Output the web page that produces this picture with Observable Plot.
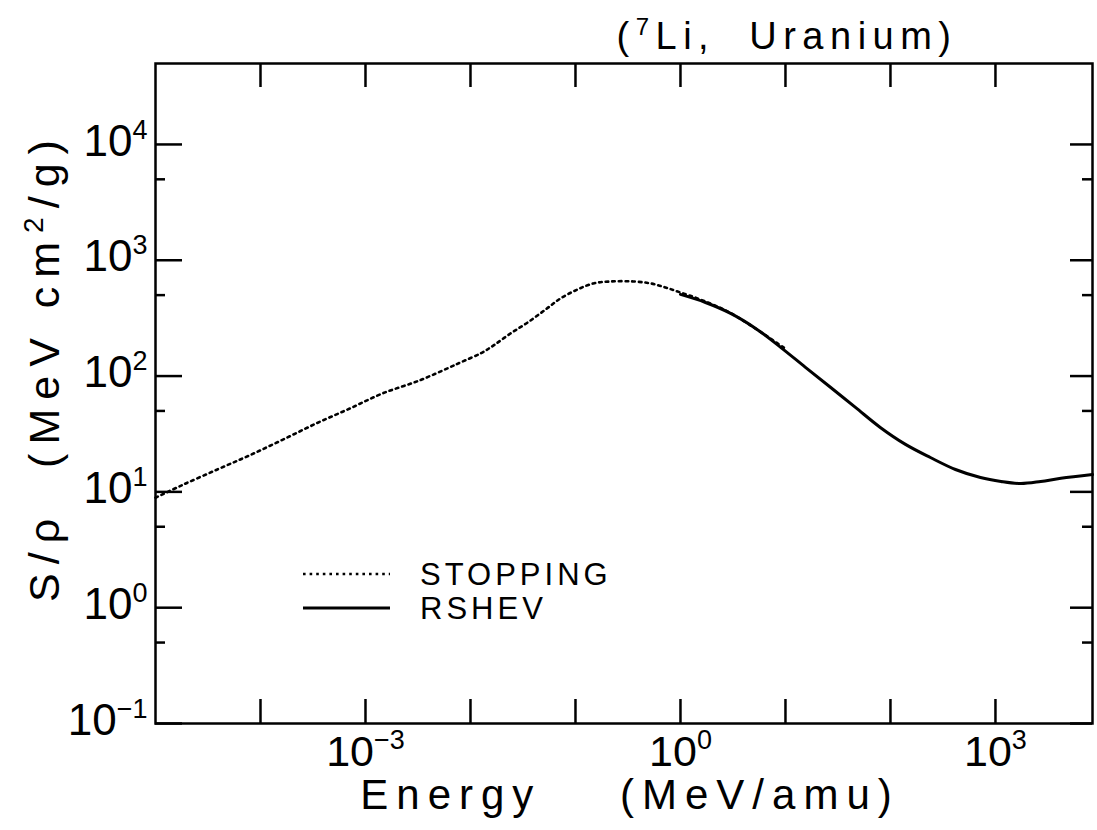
<!DOCTYPE html>
<html><head><meta charset="utf-8">
<script src="https://cdn.jsdelivr.net/npm/d3@7"></script>
<script src="https://cdn.jsdelivr.net/npm/@observablehq/plot@0.6"></script>
<style>
body{margin:0;background:#fff;}
#chart svg{display:block;}
</style></head><body><div id="chart"></div>
<script>
// ---- data ----
const stopE = [1e-5, 1.78e-5, 4e-5, 7.8e-5, 1.6e-4, 3.4e-4, 7.1e-4, 1.45e-3, 3.2e-3, 6.3e-3, 8.0e-3, 1.25e-2, 1.66e-2, 2.4e-2, 3.5e-2, 5.2e-2, 7.2e-2, 0.105, 0.148, 0.215, 0.356, 0.52, 0.72, 1.0, 1.55, 3.0, 10];
const stopS = [8.9, 11.4, 15.8, 20.6, 28, 39, 52.5, 70.8, 91, 118.6, 131, 157, 184, 233, 290, 376, 468, 560, 631, 656, 656, 631, 582, 527, 458, 350, 172];
const rshevE = [1.0, 1.73, 3.0, 5.2, 9.0, 15.5, 26.8, 46.4, 80, 139, 240, 416, 720, 1130, 1750, 2700, 4200, 8400];
const rshevS = [507, 432, 348, 258, 177, 119, 80, 53.6, 36, 25.7, 19.8, 15.6, 13.3, 12.3, 11.8, 12.3, 13.1, 14.1];

const xTicks = [1e-4, 1e-3, 1e-2, 1e-1, 1, 10, 100, 1000];
const xLabelVals = [1e-3, 1, 1e3];
const xLabelText = ["10^{\u22123}", "10^{0}", "10^{3}"];
const yMajor = [0.1, 1, 10, 100, 1000, 10000];
const yLabelText = ["10^{\u22121}", "10^{0}", "10^{1}", "10^{2}", "10^{3}", "10^{4}"];
const yMinor = [0.5, 5, 50, 500, 5000];
const seriesNames = ["STOPPING", "RSHEV"];
const titleText = "(^{7}Li,  Uranium)";
const xTitle = "Energy    (MeV/amu)";
const yTitle = "S/\u03C1  (MeV cm^{2}/g)";

// ---- layout ----
const W = 1097, H = 830, mL = 155, mR = 5, mT = 63, mB = 107;
const iw = W - mL - mR, ih = H - mT - mB;
const font = "'Liberation Sans', Arial, Helvetica, sans-serif";

const stopping = stopE.map((e, i) => ({e, s: stopS[i]}));
const rshev = rshevE.map((e, i) => ({e, s: rshevS[i]}));

function legend(index, scales, values, dims) {
  const g = d3.create("svg:g");
  const x0 = dims.marginLeft + 148, x1 = dims.marginLeft + 235, tx = dims.marginLeft + 265;
  const y0 = dims.marginTop + 511;
  const styles = [{dash: "2.6,4", w: 2.6}, {dash: null, w: 3}];
  seriesNames.forEach((name, i) => {
    const y = y0 + i * 34;
    const l = g.append("line").attr("x1", x0).attr("x2", x1).attr("y1", y).attr("y2", y)
      .attr("stroke", "#000").attr("stroke-width", styles[i].w);
    if (styles[i].dash) l.attr("stroke-dasharray", styles[i].dash);
    g.append("text").attr("x", tx).attr("y", y + 11).attr("font-size", 31)
      .attr("text-anchor", "start")
      .attr("letter-spacing", 4).attr("fill", "#000").text(name);
  });
  return g.node();
}

const plot = Plot.plot({
  width: W, height: H, marginLeft: mL, marginRight: mR, marginTop: mT, marginBottom: mB,
  style: {fontFamily: font, background: "#fff", color: "#000", overflow: "visible"},
  x: {type: "log", domain: [1e-5, 8400], axis: null},
  y: {type: "log", domain: [0.1, 5e4], axis: null},
  marks: [
    Plot.line(stopping, {x: "e", y: "s", stroke: "#000", strokeWidth: 2.6, strokeDasharray: "2.6,4", curve: "catmull-rom"}),
    Plot.line(rshev, {x: "e", y: "s", stroke: "#000", strokeWidth: 3, curve: "catmull-rom"}),
    Plot.frame({stroke: "#000", strokeWidth: 2.5}),
    Plot.tickX(xTicks, {x: d => d, insetTop: ih - 24, stroke: "#000", strokeWidth: 2.5}),
    Plot.tickX(xTicks, {x: d => d, insetBottom: ih - 24, stroke: "#000", strokeWidth: 2.5}),
    Plot.tickY(yMajor, {y: d => d, insetRight: iw - 27, stroke: "#000", strokeWidth: 2.5}),
    Plot.tickY(yMinor, {y: d => d, insetRight: iw - 10, stroke: "#000", strokeWidth: 2.5}),
    Plot.tickY(yMajor, {y: d => d, insetLeft: iw - 22, stroke: "#000", strokeWidth: 2.5}),
    Plot.tickY(yMinor, {y: d => d, insetLeft: iw - 10, stroke: "#000", strokeWidth: 2.5}),
    Plot.text(xLabelVals, {x: d => d, text: (d, i) => xLabelText[i], frameAnchor: "bottom", lineAnchor: "top", dy: 12, fontSize: 43, fill: "#000"}),
    Plot.text(yMajor, {y: d => d, text: (d, i) => yLabelText[i], frameAnchor: "left", textAnchor: "end", dx: -8, dy: -3, fontSize: 44, fill: "#000"}),
    Plot.text([xTitle], {text: d => d, frameAnchor: "bottom", lineAnchor: "top", dx: 6, dy: 56, fontSize: 42, fill: "#000"}),
    Plot.text([yTitle], {text: d => d, frameAnchor: "left", textAnchor: "middle", rotate: -90, dx: -110, dy: -27, fontSize: 43, fill: "#000"}),
    Plot.text([titleText], {text: d => d, frameAnchor: "top", lineAnchor: "top", dx: 163, dy: -41, fontSize: 38, fill: "#000"}),
    legend
  ]
});

function supify(el, supSize, shift) {
  const s = el.textContent;
  if (!s.includes("^{")) return;
  const parts = s.split(/\^\{([^}]*)\}/);
  el.textContent = "";
  let raised = false;
  parts.forEach((p, i) => {
    if (p === "") return;
    const t = document.createElementNS("http://www.w3.org/2000/svg", "tspan");
    t.textContent = p;
    if (i % 2 === 1) { t.setAttribute("font-size", supSize); t.setAttribute("dy", -shift); raised = true; }
    else if (raised) { t.setAttribute("dy", shift); raised = false; }
    el.appendChild(t);
  });
}
const spacing = new Map([[xTitle, 8], [yTitle, 9], [titleText, 6.5]]);
plot.querySelectorAll("text").forEach(el => {
  const s = el.textContent;
  if (spacing.has(s)) {
    el.style.letterSpacing = spacing.get(s) + "px";
    el.style.whiteSpace = "pre";
  }
  if (s === titleText) supify(el, 24, 14);
  else if (s === yTitle) supify(el, 28, 16);
  else supify(el, 27, 17);
});

document.getElementById("chart").appendChild(plot);
</script></body></html>
